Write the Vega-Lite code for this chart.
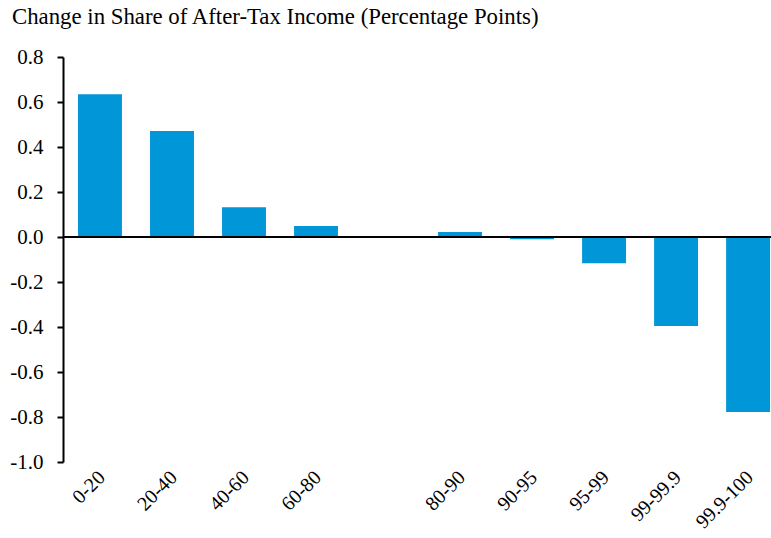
{
  "$schema": "https://vega.github.io/schema/vega-lite/v6.json",
  "autosize": "none",
  "width": 708,
  "height": 405,
  "padding": {"left": 63, "top": 57, "right": 0, "bottom": 76},
  "background": "white",
  "title": {
    "text": "Change in Share of After-Tax Income (Percentage Points)",
    "anchor": "start",
    "frame": "group",
    "dx": -51,
    "offset": 0,
    "dy": 1,
    "baseline": "alphabetic",
    "font": "Times New Roman, Liberation Serif, serif",
    "fontSize": 22.8,
    "fontWeight": "normal",
    "color": "black"
  },
  "config": {"view": {"stroke": null}},
  "data": {
    "values": [
      {"group": "0-20", "change": 0.634},
      {"group": "20-40", "change": 0.471},
      {"group": "40-60", "change": 0.132},
      {"group": "60-80", "change": 0.049},
      {"group": "80-90", "change": 0.022},
      {"group": "90-95", "change": -0.01},
      {"group": "95-99", "change": -0.117},
      {"group": "99-99.9", "change": -0.395},
      {"group": "99.9-100", "change": -0.778}
    ]
  },
  "layer": [
    {
      "mark": {"type": "bar", "color": "#0096d8"},
      "encoding": {
        "x": {
          "field": "group",
          "type": "nominal",
          "sort": null,
          "scale": {
            "domain": ["0-20", "20-40", "40-60", "60-80", " ", "80-90", "90-95", "95-99", "99-99.9", "99.9-100"],
            "paddingInner": 0.39,
            "paddingOuter": 0.111,
            "align": 0.94
          },
          "axis": {
            "title": null,
            "domain": false,
            "ticks": false,
            "labelAngle": -45,
            "labelAlign": "right",
            "labelBaseline": "middle",
            "labelPadding": 12,
            "labelOffset": 2,
            "labelFont": "Times New Roman, Liberation Serif, serif",
            "labelFontSize": 20,
            "labelColor": "black"
          }
        },
        "y": {
          "field": "change",
          "type": "quantitative",
          "scale": {"domain": [-1.0, 0.8], "nice": false, "zero": false},
          "axis": {
            "title": null,
            "grid": false,
            "values": [-1.0, -0.8, -0.6, -0.4, -0.2, 0.0, 0.2, 0.4, 0.6, 0.8],
            "labelExpr": "replace(format(datum.value, '.1f'), '\u2212', '-')",
            "domainColor": "black",
            "domainWidth": 2,
            "tickColor": "black",
            "tickWidth": 2,
            "tickSize": 6,
            "labelPadding": 14,
            "labelFont": "Times New Roman, Liberation Serif, serif",
            "labelFontSize": 21,
            "labelColor": "black"
          }
        }
      }
    },
    {
      "mark": {"type": "rule", "color": "black", "strokeWidth": 2},
      "encoding": {"y": {"datum": 0}}
    }
  ]
}
